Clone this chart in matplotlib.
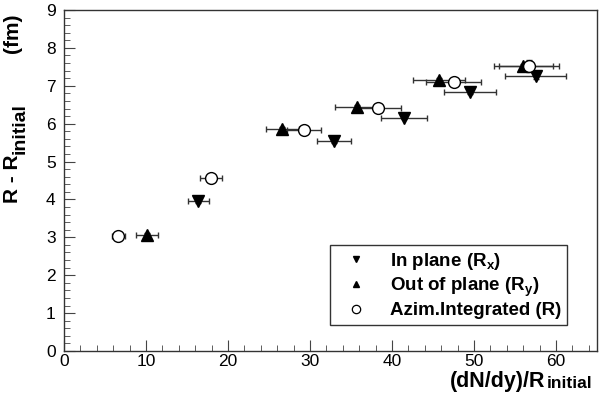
import matplotlib
matplotlib.use('Agg')
import matplotlib.pyplot as plt
from matplotlib.ticker import MultipleLocator
from matplotlib.lines import Line2D

plt.rcParams['font.family'] = ['Liberation Sans', 'DejaVu Sans']
plt.rcParams['mathtext.fontset'] = 'custom'
plt.rcParams['mathtext.rm'] = 'Liberation Sans'
plt.rcParams['mathtext.bf'] = 'Liberation Sans:bold'
plt.rcParams['mathtext.it'] = 'Liberation Sans:italic'

# in plane (R_x)
x_in = [16.4, 32.9, 41.5, 49.5, 57.5]
y_in = [3.95, 5.54, 6.16, 6.84, 7.25]
ex_in = [1.3, 2.1, 2.8, 3.2, 3.7]
ey_in = [0.05, 0.05, 0.05, 0.06, 0.07]

# out of plane (R_y)
x_out = [10.15, 26.6, 35.7, 45.7, 56.0]
y_out = [3.07, 5.87, 6.44, 7.14, 7.51]
ex_out = [1.35, 2.0, 2.7, 3.2, 3.6]
ey_out = [0.05, 0.05, 0.05, 0.06, 0.07]

# azimuthally integrated (R)
x_az = [6.6, 17.95, 29.3, 38.3, 47.5, 56.7]
y_az = [3.04, 4.56, 5.82, 6.41, 7.1, 7.52]
ex_az = [0.8, 1.35, 2.1, 2.75, 3.3, 3.7]
ey_az = [0.06, 0.06, 0.07, 0.1, 0.08, 0.15]

labels = ['In plane (R$_{\\mathbf{x}}$)', 'Out of plane (R$_{\\mathbf{y}}$)', 'Azim.Integrated (R)']

fig = plt.figure(figsize=(6.0, 3.93), dpi=100, facecolor='w')
ax = fig.add_axes([64/600., 42/393., 533/600., 341/393.])

ebkw = dict(ecolor='#333333', elinewidth=1.0, capsize=2.5, capthick=1.0, linestyle='none')
ax.errorbar(x_in, y_in, xerr=ex_in, yerr=ey_in, fmt='v', color='k', ms=8, **ebkw)
ax.errorbar(x_out, y_out, xerr=ex_out, yerr=ey_out, fmt='^', color='k', ms=8, **ebkw)
ax.errorbar(x_az, y_az, xerr=ex_az, yerr=ey_az, fmt='o', color='k', mfc='w', ms=8.5,
            mew=1.0, **ebkw)

ax.set_xlim(0, 65)
ax.set_ylim(0, 9)
ax.xaxis.set_major_locator(MultipleLocator(10))
ax.xaxis.set_minor_locator(MultipleLocator(2))
ax.yaxis.set_major_locator(MultipleLocator(1))
ax.yaxis.set_minor_locator(MultipleLocator(0.2))
ax.tick_params(which='both', direction='in', top=False, right=False, labelsize=12.5, color='#444444')
ax.tick_params(axis='x', which='major', length=8, pad=2.5)
ax.tick_params(axis='y', which='major', length=8, pad=6)
ax.tick_params(which='minor', length=4)
for s in ax.spines.values():
    s.set_linewidth(1.0)
    s.set_color('#333333')

handles = [Line2D([], [], ls='none', marker='v', color='k', ms=5),
           Line2D([], [], ls='none', marker='^', color='k', ms=5),
           Line2D([], [], ls='none', marker='o', color='k', mfc='w', ms=6, mew=0.9)]
leg = fig.legend(handles, labels, loc='upper left', bbox_to_anchor=(330/600., 1 - 245/393.),
                 fancybox=False, edgecolor='#333333', framealpha=1,
                 prop={'weight': 'bold', 'size': 13.5}, handletextpad=0.7,
                 borderpad=0.3, labelspacing=0.2, handlelength=2.2, borderaxespad=0)
leg.get_frame().set_linewidth(1.0)

# x axis title
fig.text(545/600., 1 - 387/393., '(dN/dy)/R', ha='right', va='baseline',
         fontsize=15.5, fontweight='bold')
fig.text(547/600., 1 - 388/393., 'initial', ha='left', va='baseline',
         fontsize=12.5, fontweight='bold')

# y axis title (rotated, pieces placed along the axis)
fig.text(18/600., 1 - 203/393., 'R - R', ha='left', va='baseline', rotation=90,
         rotation_mode='anchor', fontsize=15, fontweight='bold')
fig.text(25/600., 1 - 154/393., 'initial', ha='left', va='baseline', rotation=90,
         rotation_mode='anchor', fontsize=14, fontweight='bold')
fig.text(18/600., 1 - 53/393., '(fm)', ha='left', va='baseline', rotation=90,
         rotation_mode='anchor', fontsize=15, fontweight='bold')

fig.savefig('out.png', dpi=100, facecolor='w')
